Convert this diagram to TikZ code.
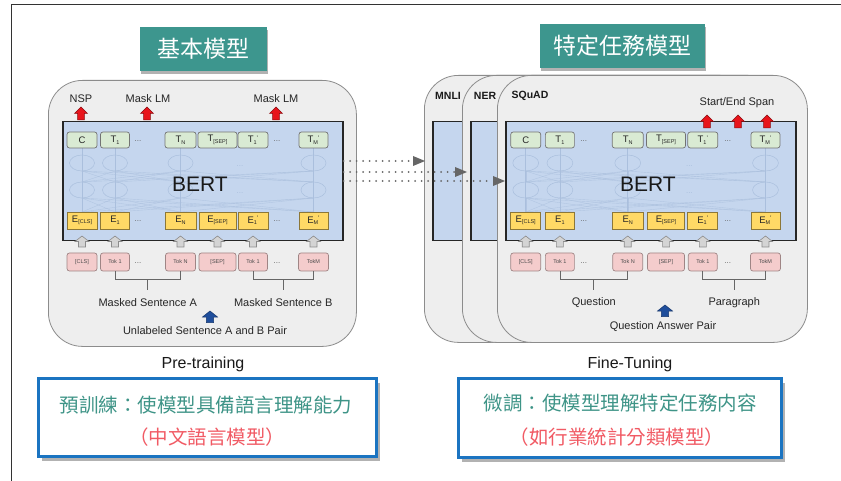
\documentclass[tikz,border=0pt]{standalone}
\usepackage{fontspec}
\setmainfont{Liberation Sans}
\newfontfamily\cjk{Noto Sans CJK TC}
\usetikzlibrary{arrows.meta,shadows,calc}

\definecolor{panelbg}{HTML}{EEEEEE}
\definecolor{panelln}{HTML}{8C8C8C}
\definecolor{bertblue}{HTML}{C5D6EE}
\definecolor{tgreen}{HTML}{D9EAD3}
\definecolor{eyellow}{HTML}{FFD966}
\definecolor{tokpink}{HTML}{F4CCCC}
\definecolor{titleteal}{HTML}{3D968E}
\definecolor{tealtext}{HTML}{3E9487}
\definecolor{redtext}{HTML}{F15A64}
\definecolor{boxblue}{HTML}{1B74C1}
\definecolor{arrred}{HTML}{E8141B}
\definecolor{arrblue}{HTML}{1F4E9C}
\definecolor{arrgray}{HTML}{D4D4D4}
\definecolor{netline}{HTML}{AABFDD}

\newcommand\subx[1]{\raisebox{-1.6pt}{\fontsize{5.5}{5.5}\selectfont #1}}
\newcommand\supx{\raisebox{2.6pt}{\fontsize{6.5}{6.5}\selectfont '}}

\tikzset{
  panel/.style={draw=panelln, fill=panelbg, line width=0.8pt, rounded corners=34pt, inner sep=0pt},
  bertbox/.style={draw=black!85, fill=bertblue, line width=1.5pt, inner sep=0pt},
  tbox/.style={draw=black!55, fill=tgreen, rounded corners=2.5pt, line width=0.7pt, minimum height=16pt, inner sep=0pt, font=\fontsize{9.5}{10}\selectfont, text=black!85},
  ebox/.style={draw=black!45!eyellow, fill=eyellow, line width=0.7pt, minimum height=17pt, inner sep=0pt, font=\fontsize{9.5}{10}\selectfont, text=black!85},
  tokbox/.style={draw=black!35!tokpink, fill=tokpink, rounded corners=2.5pt, line width=0.7pt, minimum height=18pt, inner sep=0pt, font=\fontsize{5.5}{6}\selectfont, text=black!70},
  dotsl/.style={font=\fontsize{8}{8}\selectfont, text=black!60, inner sep=0pt},
  net/.style={draw=netline, line width=0.5pt},
  netx/.style={draw=netline, line width=0.4pt, opacity=0.7},
  brk/.style={draw=black!60, line width=0.8pt},
  lbl/.style={font=\fontsize{11}{12}\selectfont, text=black!85, inner sep=0pt},
  tasklbl/.style={font=\bfseries\fontsize{10.5}{12}\selectfont, text=black!90, inner sep=0pt},
  phase/.style={font=\fontsize{16}{18}\selectfont, text=black!90, inner sep=0pt},
  titlebox/.style={fill=titleteal, text=white, font=\cjk\fontsize{23}{23}\selectfont, inner sep=0pt,
    drop shadow={shadow xshift=1pt, shadow yshift=-3pt, fill=black!60, opacity=0.5}},
  infobox/.style={draw=boxblue, fill=white, line width=2.8pt, inner sep=0pt,
    drop shadow={shadow xshift=4pt, shadow yshift=-5pt, fill=black!55, opacity=0.55}},
  cjkteal/.style={font=\cjk\fontsize{19.5}{20}\selectfont, text=tealtext, inner sep=0pt},
  cjkred/.style={font=\cjk\fontsize{19.5}{20}\selectfont, text=redtext, inner sep=0pt},
  dotarr/.style={draw=black!60, line width=2pt, line cap=round, dash pattern=on 0pt off 6.5pt,
    -{Triangle[length=12pt, width=10pt, line width=0pt, fill=black!60]}},
  redup/.pic={\path[pic actions] (0,0) -- (6.5,6.5) -- (3.3,6.5) -- (3.3,13) -- (-3.3,13) -- (-3.3,6.5) -- (-6.5,6.5) -- cycle;},
  grayup/.pic={\path[pic actions] (0,0) -- (7,5.5) -- (3.5,5.5) -- (3.5,11) -- (-3.5,11) -- (-3.5,5.5) -- (-7,5.5) -- cycle;},
  blueup/.pic={\path[pic actions] (0,0) -- (7.5,6) -- (3.6,6) -- (3.6,11.5) -- (-3.6,11.5) -- (-3.6,6) -- (-7.5,6) -- cycle;},
}

\newcommand\bertstack[3]{%
  \node[bertbox, anchor=north west, minimum width=#3pt, minimum height=119pt] (#1bert) at (#2,121) {};
  \begin{scope}[shift={(#2,0)}, xscale=#3/280]
    \foreach \a in {20,53,118.5,251.5}{
      \draw[net] (\a,148) -- (\a,212);
      \draw[net] (\a,163) ellipse [x radius=12.5pt, y radius=8pt];
      \draw[net] (\a,190) ellipse [x radius=12.5pt, y radius=8pt];
      \foreach \b in {20,53,118.5,251.5}{
        \draw[netx] (\a,171) -- (\b,182);
        \draw[netx] (\a,198) -- (\b,212);
      }
    }
    \node[dotsl, text=netline] (#1nd1) at (178,166) {...};
    \node[dotsl, text=netline] (#1nd2) at (178,193) {...};
    \node[font=\fontsize{21}{21}\selectfont, text=black!90, inner sep=0pt] (#1name) at (138,184) {BERT};
    % output tokens
    \node[tbox, minimum width=30pt] (#1t1) at (20,140) {C};
    \node[tbox, minimum width=29pt] (#1t2) at (53,140) {T\subx{1}};
    \node[dotsl] (#1td1) at (76,141) {...};
    \node[tbox, minimum width=31pt] (#1t3) at (118.5,140) {T\subx{N}};
    \node[tbox, minimum width=39pt] (#1t4) at (155.5,140) {T\subx{[SEP]}};
    \node[tbox, minimum width=30pt] (#1t5) at (191,140) {T\subx{1}\supx};
    \node[dotsl] (#1td2) at (215,141) {...};
    \node[tbox, minimum width=29pt] (#1t6) at (251.5,140) {T\subx{M}\supx};
    % embeddings
    \node[ebox, minimum width=30pt] (#1e1) at (20,220.5) {E\subx{[CLS]}};
    \node[ebox, minimum width=29pt] (#1e2) at (53,220.5) {E\subx{1}};
    \node[dotsl] (#1ed1) at (76,221.5) {...};
    \node[ebox, minimum width=31pt] (#1e3) at (118.5,220.5) {E\subx{N}};
    \node[ebox, minimum width=37pt] (#1e4) at (155.5,220.5) {E\subx{[SEP]}};
    \node[ebox, minimum width=30pt] (#1e5) at (191,220.5) {E\subx{1}\supx};
    \node[dotsl] (#1ed2) at (215,221.5) {...};
    \node[ebox, minimum width=29pt] (#1e6) at (251.5,220.5) {E\subx{M}\supx};
    % gray arrows
    \foreach \a in {20,53,118.5,155.5,191,251.5}{
      \pic[draw=black!45, fill=arrgray, line width=0.6pt] at (\a,236) {grayup};
    }
    % input tokens
    \node[tokbox, minimum width=30pt] (#1k1) at (20,262) {[CLS]};
    \node[tokbox, minimum width=29pt] (#1k2) at (53,262) {Tok 1};
    \node[dotsl] (#1kd1) at (76,263) {...};
    \node[tokbox, minimum width=30pt] (#1k3) at (118.5,262) {Tok N};
    \node[tokbox, minimum width=37pt] (#1k4) at (155.5,262) {[SEP]};
    \node[tokbox, minimum width=29pt] (#1k5) at (191,262) {Tok 1};
    \node[dotsl] (#1kd2) at (215,263) {...};
    \node[tokbox, minimum width=30pt] (#1k6) at (251.5,262) {TokM};
    % brackets
    \draw[brk] (#1k2.south) -- ++(0,8) -| (#1k3.south);
    \draw[brk] ($(#1k2.south)!0.5!(#1k3.south)+(0,8)$) -- ++(0,11) coordinate (#1brA);
    \draw[brk] (#1k5.south) -- ++(0,8) -| (#1k6.south);
    \draw[brk] ($(#1k5.south)!0.5!(#1k6.south)+(0,8)$) -- ++(0,11) coordinate (#1brB);
  \end{scope}
}

\begin{document}
\begin{tikzpicture}[x=1pt, y=-1pt]
\useasboundingbox (0,0) rectangle (841,481);
\fill[white] (0,0) rectangle (841,481);
\draw[black!80, line width=1pt] (11,481) -- (11,5) -- (841,5);

% ---------- Pre-training ----------
\node[panel, anchor=north west, minimum width=308pt, minimum height=266pt] (lpanel) at (48,80) {};
\bertstack{l}{62}{280}
\node[lbl] (nsp) at (81,99) {NSP};
\node[lbl] (mlm1) at (148,99) {Mask LM};
\node[lbl] (mlm2) at (276,99) {Mask LM};
\pic[draw=black!40!arrred, fill=arrred, line width=0.5pt] at (81,107) {redup};
\pic[draw=black!40!arrred, fill=arrred, line width=0.5pt] at (147,107) {redup};
\pic[draw=black!40!arrred, fill=arrred, line width=0.5pt] at (276,107) {redup};
\node[lbl] (msa) at ([yshift=-12pt]lbrA) {Masked Sentence A};
\node[lbl] (msb) at ([yshift=-12pt]lbrB) {Masked Sentence B};
\pic[draw=black!30!arrblue, fill=arrblue, line width=0.5pt] at (210,311) {blueup};
\node[lbl] (upair) at (205,331) {Unlabeled Sentence A and B Pair};
\node[phase] (pre) at (203,364) {Pre-training};

% ---------- Fine-tuning ----------
\node[panel, anchor=north west, minimum width=330pt, minimum height=267pt] (mnlipanel) at (424,75) {};
\node[bertbox, anchor=north west, minimum width=308pt, minimum height=119pt] (mnlibert) at (432,121) {};
\node[tasklbl] (mnli) at (448,96) {MNLI};
\node[panel, anchor=north west, minimum width=320pt, minimum height=267pt] (nerpanel) at (462,75) {};
\node[bertbox, anchor=north west, minimum width=300pt, minimum height=119pt] (nerbert) at (470,121) {};
\node[tasklbl] (ner) at (485,96) {NER};
\node[panel, anchor=north west, minimum width=310pt, minimum height=267pt] (spanel) at (497,75) {};
\bertstack{s}{505}{290}
\node[tasklbl] (squad) at (530,96) {SQuAD};
\node[lbl] (span) at (737,103) {Start/End Span};
\pic[draw=black!40!arrred, fill=arrred, line width=0.5pt] at (707,115) {redup};
\pic[draw=black!40!arrred, fill=arrred, line width=0.5pt] at (738,115) {redup};
\pic[draw=black!40!arrred, fill=arrred, line width=0.5pt] at (767,115) {redup};
\node[lbl] (quest) at ([yshift=-12pt]sbrA) {Question};
\node[lbl] (para) at ([yshift=-12pt]sbrB) {Paragraph};
\pic[draw=black!30!arrblue, fill=arrblue, line width=0.5pt] at (665,305) {blueup};
\node[lbl] (qapair) at (663,327) {Question Answer Pair};
\node[phase] (fine) at (630,364) {Fine-Tuning};

% dotted transfer arrows
\draw[dotarr, shorten >=7pt] (lbert.east |- 0,161) -- (mnlibert.west |- 0,161);
\draw[dotarr, shorten >=3pt] (lbert.east |- 0,172) -- (nerbert.west |- 0,172);
\draw[dotarr] (lbert.east |- 0,181) -- (sbert.west |- 0,181);

% titles
\node[titlebox, minimum width=127pt, minimum height=44pt] (t1) at (203.5,49) {基本模型};
\node[titlebox, minimum width=165pt, minimum height=44pt] (t2) at (622.5,46) {特定任務模型};

% info boxes
\node[infobox, anchor=north west, minimum width=338pt, minimum height=78pt] (b1) at (37,377) {};
\node[cjkteal] (b1a) at (206,405) {預訓練：使模型具備語言理解能力};
\node[cjkred] (b1b) at (207,437) {（中文語言模型）};
\node[infobox, anchor=north west, minimum width=323pt, minimum height=79pt] (b2) at (457,377) {};
\node[cjkteal] (b2a) at (620,403) {微調：使模型理解特定任務内容};
\node[cjkred] (b2b) at (617,437) {（如行業統計分類模型）};
\end{tikzpicture}
\end{document}
